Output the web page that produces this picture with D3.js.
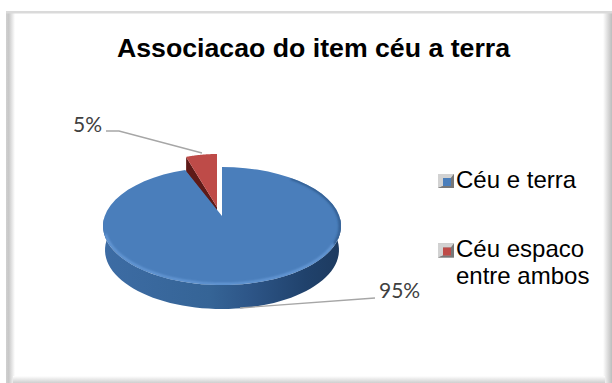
<!DOCTYPE html>
<html><head><meta charset="utf-8">
<script src="https://cdnjs.cloudflare.com/ajax/libs/d3/7.8.5/d3.min.js"></script>
<style>html,body{margin:0;padding:0;background:#fff}svg{display:block}</style>
</head><body><svg id="c" width="612" height="383"></svg>
<script>
const titleText = "Associacao do item céu a terra";
const categories = ["Céu e terra", "Céu espaco entre ambos"];
const legendLines = [["Céu e terra"], ["Céu espaco", "entre ambos"]];
const shares = [95, 5];
const sliceColors = ["#4a7ebb", "#be4b48"];

const svg = d3.select("#c");
const defs = svg.append("defs");

function linear(id, dir, stops) {
  const g = defs.append("linearGradient").attr("id", id)
    .attr("x1", dir[0]).attr("y1", dir[1]).attr("x2", dir[2]).attr("y2", dir[3]);
  stops.forEach(s => g.append("stop").attr("offset", s[0]).attr("stop-color", s[1]));
}
linear("wall", [0, 0, 1, 0], [[0, "#3d6ca4"], [0.45, "#356496"], [0.62, "#2d5587"], [0.85, "#20426c"], [1, "#1d3a5f"]]);
linear("shadeL", [0, 0, 1, 0], [[0, "#d0d0d0"], [0.3, "#c8c8c8"], [1, "#ffffff"]]);
linear("shadeR", [0, 0, 1, 0], [[0, "#ffffff"], [1, "#bdbdbd"]]);
linear("shadeB", [0, 0, 0, 1], [[0, "#ffffff"], [1, "#cfcfcf"]]);
defs.append("filter").attr("id", "soft").append("feGaussianBlur").attr("stdDeviation", 1.2);
defs.append("clipPath").attr("id", "topClip").append("path").attr("id", "topClipPath");

// Card frame with its soft inner shading
svg.append("rect").attr("x", 6).attr("y", 12).attr("width", 9).attr("height", 371).attr("fill", "url(#shadeL)");
svg.append("rect").attr("x", 603).attr("y", 12).attr("width", 9).attr("height", 371).attr("fill", "url(#shadeR)");
svg.append("rect").attr("x", 13).attr("y", 376).attr("width", 592).attr("height", 7).attr("fill", "url(#shadeB)");
svg.append("rect").attr("x", 6).attr("y", 11).attr("width", 606).attr("height", 2.5).attr("fill", "#dadada");

svg.append("text").attr("x", 313.5).attr("y", 57).attr("text-anchor", "middle")
  .attr("font-family", "'Liberation Sans',Arial,sans-serif").attr("font-weight", 700)
  .attr("font-size", 26.7).attr("fill", "#000").text(titleText);

// Pie angles come from the shares; the small slice ends at twelve o'clock
const arcs = d3.pie().sort(null).startAngle(0).endAngle(2 * Math.PI)(shares);
const main = arcs[0], small = arcs[1];

const disc = {cx: 222, cy: 226, rx: 119, ry: 59, tipY: 216, depth: 24};
const rim = (e, a) => [e.cx + e.rx * Math.sin(a), e.cy - e.ry * Math.cos(a)];
const arcPts = (e, a0, a1) => d3.range(0, 61).map(i => rim(e, a0 + (a1 - a0) * i / 60));
const line = d3.line();

// Side wall of the disc
const wallFront = arcPts({...disc, rx: 117}, Math.PI / 2 - 0.15, 3 * Math.PI / 2 + 0.15)
  .map(p => [p[0], p[1] + disc.depth]);
const wallTop = arcPts(disc, 3 * Math.PI / 2 + 0.15, Math.PI / 2 - 0.15);
svg.append("path").attr("d", line(wallFront.concat(wallTop)) + "Z").attr("fill", "url(#wall)");

// Pulled-out small slice: its dark inner face sits behind the large slice
const wedge = {cx: 217, cy: 213, rx: 100, ry: 59};
const wedgeTip = [217, 207];
const wedgeArc = arcPts(wedge, small.startAngle, small.endAngle);
const corner = wedgeArc[0];
svg.append("path").attr("d", line([corner, [corner[0], corner[1] + 15], [wedgeTip[0], wedgeTip[1] + 4], wedgeTip]) + "Z")
  .attr("fill", "#5e1a18");

// Top face of the large slice
const topPts = [[disc.cx, disc.tipY]].concat(arcPts(disc, main.startAngle, main.endAngle));
const topD = line(topPts) + "Z";
d3.select("#topClipPath").attr("d", topD);
svg.append("path").attr("d", topD).attr("fill", sliceColors[0]);

// Bevel highlight along the front rim
const bevel = svg.append("g").attr("clip-path", "url(#topClip)");
bevel.append("path").attr("d", line(arcPts({...disc, cy: disc.cy - 1, rx: 118}, Math.PI * 0.6, Math.PI * 1.45)))
  .attr("fill", "none").attr("stroke", "#6c9fdc").attr("stroke-width", 2).attr("filter", "url(#soft)");
bevel.append("path").attr("d", line(arcPts({...disc, cx: disc.cx - 1}, Math.PI * 0.2, Math.PI * 0.6)))
  .attr("fill", "none").attr("stroke", "#2f5a8c").attr("stroke-width", 2.5).attr("filter", "url(#soft)");

svg.append("path").attr("d", line([wedgeTip].concat(wedgeArc)) + "Z").attr("fill", sliceColors[1]);

// Leader lines and value labels
const pct = d3.format(".0%");
const total = d3.sum(shares);
svg.append("path").attr("d", line([[106, 131], [119, 131], [202, 153]])).attr("fill", "none").attr("stroke", "#a6a6a6").attr("stroke-width", 1.3);
svg.append("path").attr("d", line([[240, 308], [375, 298]])).attr("fill", "none").attr("stroke", "#a6a6a6").attr("stroke-width", 1.3);
const valueFont = "Lato,'Open Sans',sans-serif";
svg.append("text").attr("x", 73).attr("y", 132).attr("font-family", valueFont).attr("font-size", 21).attr("fill", "#404040").text(pct(shares[1] / total));
svg.append("text").attr("x", 379).attr("y", 298).attr("font-family", valueFont).attr("font-size", 21).attr("fill", "#404040").text(pct(shares[0] / total));

// Legend
const legendY = d3.scalePoint().domain(categories).range([174, 243.5]);
const entry = svg.selectAll("g.entry").data(categories).enter().append("g").attr("class", "entry")
  .attr("transform", d => `translate(438,${legendY(d)})`);
entry.append("rect").attr("width", 16).attr("height", 14).attr("fill", "#9a9a9a");
entry.append("path").attr("d", "M0 0H16L13 4H5V12L0 14Z").attr("fill", "#d2d2d2");
entry.append("path").attr("d", "M16 14H0L5 12H13V4L16 0Z").attr("fill", "#777");
entry.append("rect").attr("x", 5).attr("y", 4).attr("width", 8).attr("height", 8).attr("fill", (d, i) => sliceColors[i]);
entry.each(function (d, i) {
  d3.select(this).selectAll("text").data(legendLines[i]).enter().append("text")
    .attr("x", 18).attr("y", (t, j) => 13.5 + j * 27)
    .attr("font-family", "'Liberation Sans',Arial,sans-serif").attr("font-size", 24).attr("fill", "#000").text(t => t);
});
</script></body></html>
